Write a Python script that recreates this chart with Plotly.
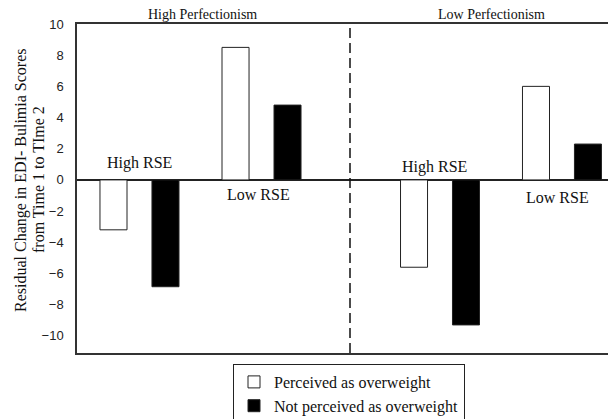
import plotly.graph_objects as go

# ---- data ----
rse_levels = ["High RSE", "Low RSE"]
panels = ["High Perfectionism", "Low Perfectionism"]
series_names = ["Perceived as overweight", "Not perceived as overweight"]
hp_perceived = [-3.2, 8.5]
hp_not_perceived = [-6.85, 4.8]
lp_perceived = [-5.6, 6.0]
lp_not_perceived = [-9.3, 2.3]
y_ticks = [-10, -8, -6, -4, -2, 0, 2, 4, 6, 8, 10]
y_title_lines = ["Residual Change in EDI- Bulimia Scores", "from Time 1 to TIme 2"]

serif = "Liberation Serif"
sans = "Liberation Sans"

# page body has an 8px default margin; size the figure so it fits the window
OFF = 8
W, H = 616 - OFF, 419 - OFF
ML, MT = 77 - OFF, 24 - OFF
PW, PH = W - ML, H - MT


def px_x(x):  # window pixel -> paper x
    return (x - OFF - ML) / PW


def px_y(y):  # window pixel -> paper y
    return (H - (y - OFF)) / PH


fig = go.Figure()
bar_line = dict(color="#222", width=1)
fig.add_trace(go.Bar(x=rse_levels, y=hp_perceived, name=series_names[0],
                     marker=dict(color="white", line=bar_line), xaxis="x", yaxis="y",
                     legendgroup="a"))
fig.add_trace(go.Bar(x=rse_levels, y=hp_not_perceived, name=series_names[1],
                     marker=dict(color="black", line=bar_line), xaxis="x", yaxis="y",
                     legendgroup="b"))
fig.add_trace(go.Bar(x=rse_levels, y=lp_perceived, name=series_names[0],
                     marker=dict(color="white", line=bar_line), xaxis="x2", yaxis="y2",
                     legendgroup="a", showlegend=False))
fig.add_trace(go.Bar(x=rse_levels, y=lp_not_perceived, name=series_names[1],
                     marker=dict(color="black", line=bar_line), xaxis="x2", yaxis="y2",
                     legendgroup="b", showlegend=False))

split = px_x(350)
y_bottom = px_y(353)
frame = dict(showline=True, linecolor="#333", linewidth=1.5, mirror=True)

fig.update_layout(
    width=W, height=H,
    margin=dict(l=ML, r=0, t=MT, b=0, autoexpand=False),
    paper_bgcolor="white", plot_bgcolor="white",
    barmode="group", bargap=0.148, bargroupgap=0.48,
    xaxis=dict(domain=[0, split], range=[-0.512, 1.725], showticklabels=False,
               ticks="", showgrid=False, **frame),
    xaxis2=dict(domain=[split, 1], range=[-0.738, 1.443], showticklabels=False,
                ticks="", showgrid=False, anchor="y2", **frame),
    yaxis=dict(domain=[y_bottom, 1], range=[-11.1, 10], tickvals=y_ticks, ticks="",
               showgrid=False, showline=True, linecolor="#333", linewidth=1.5,
               zeroline=True, zerolinecolor="#222", zerolinewidth=1.5,
               tickfont=dict(family=sans, size=13, color="#222"),
               ticklabelstandoff=9),
    yaxis2=dict(domain=[y_bottom, 1], range=[-11.1, 10], anchor="x2", matches="y",
                showticklabels=False, ticks="", showgrid=False, showline=False,
                zeroline=True, zerolinecolor="#222", zerolinewidth=1.5),
    legend=dict(x=px_x(233), y=px_y(364), xanchor="left", yanchor="top",
                bordercolor="#222", borderwidth=1, bgcolor="white",
                font=dict(family=serif, size=16, color="#111"),
                tracegroupgap=0, itemwidth=30),
    showlegend=True,
)

# dashed divider
fig.add_shape(type="line", xref="paper", yref="y domain", x0=split, x1=split, y0=0, y1=1,
              line=dict(color="#111", width=1.5, dash="10px,5px"))

# panel titles
title_font = dict(family=serif, size=14, color="#111")
for txt, px in zip(panels, [202, 491]):
    fig.add_annotation(text=txt, xref="paper", yref="paper", x=px_x(px), y=1,
                       xanchor="center", yanchor="bottom", showarrow=False, font=title_font)

# RSE labels
lab_font = dict(family=serif, size=16, color="#111")
fig.add_annotation(text=rse_levels[0], xref="x", yref="y", x=rse_levels[0], y=1.1,
                   showarrow=False, font=lab_font)
fig.add_annotation(text=rse_levels[1], xref="x", yref="y", x=rse_levels[1], y=-0.96,
                   xshift=-3, showarrow=False, font=lab_font)
fig.add_annotation(text=rse_levels[0], xref="x2", yref="y2", x=rse_levels[0], y=0.83,
                   xshift=-6, showarrow=False, font=lab_font)
fig.add_annotation(text=rse_levels[1], xref="x2", yref="y2", x=rse_levels[1], y=-1.1,
                   xshift=-4, showarrow=False, font=lab_font)

# y-axis title (two lines)
for line_text, px in zip(y_title_lines, [21, 38]):
    fig.add_annotation(text=line_text, xref="paper", yref="paper",
                       x=px_x(px), y=px_y(180),
                       xanchor="center", yanchor="middle", textangle=-90, showarrow=False,
                       font=dict(family=serif, size=16, color="#111"))

fig.write_html("out.html")
